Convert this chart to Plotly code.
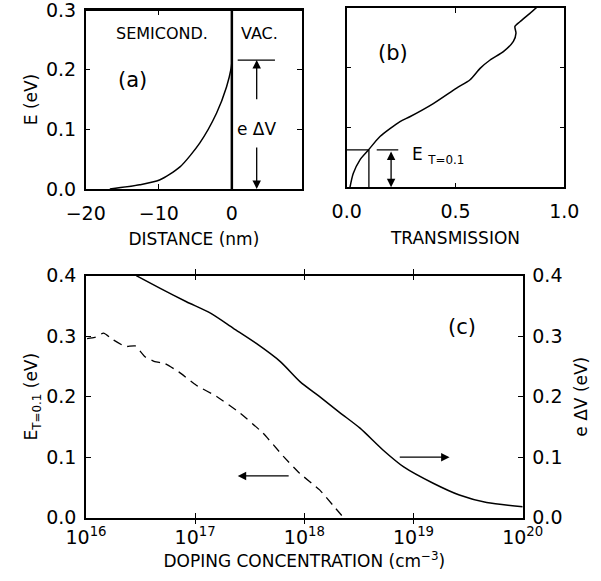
import plotly.graph_objects as go

# ---------- data ----------
# (a) band bending vs distance
dist_nm = [-16.7, -12.6, -9.9, -7.1, -4.4, -2.1, -0.73, -0.1, 0.0]
band_E = [0.0, 0.007, 0.015, 0.037, 0.077, 0.127, 0.171, 0.202, 0.212]

# (b) transmission vs energy
trans_T = [0.015, 0.03, 0.061, 0.1, 0.153, 0.245, 0.29, 0.398, 0.505, 0.567, 0.613,
           0.659, 0.72, 0.766, 0.778, 0.773, 0.796, 0.842, 0.876]
trans_E = [0.0, 0.023, 0.046, 0.0625, 0.085, 0.11, 0.118, 0.14, 0.166, 0.18, 0.199,
           0.213, 0.227, 0.244, 0.258, 0.269, 0.277, 0.291, 0.302]

# (c) vs doping concentration
dop_dV = [10**16.46, 10**16.68, 10**16.92, 10**17.14, 10**17.35, 10**17.56, 10**17.78,
          10**17.96, 10**18.14, 10**18.33, 10**18.51, 10**18.72, 10**18.91, 10**19.18,
          10**19.42, 10**19.67, 10**20.0]
e_dV = [0.4, 0.379, 0.357, 0.338, 0.313, 0.288, 0.258, 0.225, 0.2, 0.173, 0.148,
        0.112, 0.084, 0.057, 0.0375, 0.025, 0.018]

dop_ET = [10**16.01, 10**16.08, 10**16.16, 10**16.25, 10**16.36, 10**16.45, 10**16.54,
          10**16.63, 10**16.72, 10**16.85, 10**17.01, 10**17.2, 10**17.41, 10**17.62,
          10**17.81, 10**17.96, 10**18.14, 10**18.26, 10**18.36]
E_T01 = [0.296, 0.298, 0.305, 0.294, 0.283, 0.284, 0.266, 0.258, 0.255, 0.241, 0.219,
         0.2, 0.173, 0.14, 0.101, 0.073, 0.046, 0.021, 0.0]

a_xticks = [-20, -10, 0]
a_yticks = [0.0, 0.1, 0.2, 0.3]
b_xticks = [0.0, 0.5, 1.0]
c_yticks = [0.0, 0.1, 0.2, 0.3, 0.4]
c_xticks = [1e16, 1e17, 1e18, 1e19, 1e20]
c_xticktext = ["10<sup>16</sup>", "10<sup>17</sup>", "10<sup>18</sup>",
               "10<sup>19</sup>", "10<sup>20</sup>"]

# ---------- figure ----------
W, H = 601, 581
FONT = "DejaVu Sans, Liberation Sans, sans-serif"
TICKF = dict(family=FONT, size=19, color="black")
TITF = dict(family=FONT, size=17, color="black")
LBLF = dict(family=FONT, size=16, color="black")
PANF = dict(family=FONT, size=21, color="black")
LINE = dict(color="black", width=1.5, shape="spline", smoothing=0.7)

def px_x(a, b):
    return [a / W, b / W]

def px_y(top, bot):
    return [1 - bot / H, 1 - top / H]

fig = go.Figure()

fig.add_trace(go.Scatter(x=dist_nm, y=band_E, mode="lines", line=LINE,
                         xaxis="x", yaxis="y", showlegend=False))
fig.add_trace(go.Scatter(x=trans_T, y=trans_E, mode="lines", line=LINE,
                         xaxis="x2", yaxis="y2", showlegend=False))
fig.add_trace(go.Scatter(x=dop_ET, y=E_T01, mode="lines",
                         line=dict(color="black", width=1.3, dash="9px,6px",
                                   shape="spline", smoothing=0.5),
                         xaxis="x3", yaxis="y3", showlegend=False))
fig.add_trace(go.Scatter(x=dop_dV, y=e_dV, mode="lines", line=LINE,
                         xaxis="x3", yaxis="y4", showlegend=False))

common = dict(showline=True, linecolor="black", linewidth=1.5, mirror="allticks",
              ticks="inside", ticklen=5, tickwidth=1.2, tickcolor="black",
              showgrid=False, zeroline=False, tickfont=TICKF, automargin=False,
              ticklabeloverflow="allow")

fig.update_layout(
    width=W, height=H, margin=dict(l=0, r=0, t=0, b=0),
    paper_bgcolor="white", plot_bgcolor="white",
    xaxis=dict(common, domain=px_x(85.7, 302), range=[-20, 9.6], tickvals=a_xticks,
               ticktext=["\u221220", "\u221210", "0"], anchor="y",
               title=dict(text="DISTANCE (nm)", font=TITF, standoff=11),
               ticklabelstandoff=6),
    yaxis=dict(common, domain=px_y(10, 189), range=[0, 0.3], tickvals=a_yticks,
               tickformat=".1f", anchor="x",
               title=dict(text="E (eV)", font=TITF, standoff=4),
               ticklabelstandoff=4),
    xaxis2=dict(common, domain=px_x(346.7, 564.3), range=[0, 1.0], tickvals=b_xticks,
                tickformat=".1f", anchor="y2",
                title=dict(text="TRANSMISSION", font=TITF, standoff=11),
                ticklabelstandoff=6),
    yaxis2=dict(common, domain=px_y(8, 187.3), range=[0, 0.3], tickvals=a_yticks,
                showticklabels=False, anchor="x2"),
    xaxis3=dict(common, domain=px_x(86, 522.7), type="log", range=[16, 20],
                tickvals=c_xticks, ticktext=c_xticktext, anchor="y3",
                title=dict(text="DOPING CONCENTRATION (cm<sup>\u22123</sup>)",
                           font=TITF, standoff=8),
                ticklabelstandoff=2),
    yaxis3=dict(common, domain=px_y(275.7, 517.7), range=[0, 0.4], tickvals=c_yticks,
                tickformat=".1f", anchor="x3", mirror=False,
                title=dict(text="E<sub>T=0.1</sub> (eV)", font=TITF, standoff=4),
                ticklabelstandoff=4),
    yaxis4=dict(common, domain=px_y(275.7, 517.7), range=[0, 0.4], tickvals=c_yticks,
                tickformat=".1f", anchor="x3", overlaying="y3", side="right",
                mirror=False,
                title=dict(text="e \u0394V (eV)", font=TITF, standoff=14),
                ticklabelstandoff=4),
)

# top edge of (a), drawn explicitly in paper coordinates on top of everything
fig.add_shape(type="line", xref="paper", yref="paper", x0=85.7 / W, x1=302 / W,
              y0=1 - 10 / H, y1=1 - 10 / H, layer="above",
              line=dict(color="black", width=1.8))
# interface line in (a)
fig.add_shape(type="line", xref="x", yref="y", x0=0, x1=0, y0=0, y1=0.3,
              line=dict(color="black", width=2.5))
# eΔV marker in (a)
fig.add_shape(type="line", xref="x", yref="y", x0=0.8, x1=5.9, y0=0.216, y1=0.216,
              line=dict(color="black", width=1.3))

# E_T=0.1 construction in (b)
fig.add_shape(type="line", xref="x2", yref="y2", x0=0, x1=0.102, y0=0.0625, y1=0.0625,
              line=dict(color="black", width=1.3))
fig.add_shape(type="line", xref="x2", yref="y2", x0=0.102, x1=0.102, y0=0, y1=0.0625,
              line=dict(color="black", width=1.3))
fig.add_shape(type="line", xref="x2", yref="y2", x0=0.138, x1=0.237, y0=0.0625, y1=0.0625,
              line=dict(color="black", width=1.3))

ARW = dict(showarrow=True, arrowhead=2, arrowsize=1.3, arrowwidth=1.3,
           arrowcolor="black", text="")

anns = [
    # (a)
    dict(ARW, xref="x", yref="y", axref="x", ayref="y", x=3.4, y=0.216, ax=3.4, ay=0.148),
    dict(ARW, xref="x", yref="y", axref="x", ayref="y", x=3.4, y=0.0, ax=3.4, ay=0.072),
    dict(xref="x", yref="y", x=3.4, y=0.1, text="e \u0394V", showarrow=False, font=TITF),
    dict(xref="x", yref="y", x=-9.6, y=0.261, text="SEMICOND.", showarrow=False, font=LBLF),
    dict(xref="x", yref="y", x=3.8, y=0.261, text="VAC.", showarrow=False, font=LBLF),
    dict(xref="x", yref="y", x=-13.6, y=0.183, text="(a)", showarrow=False, font=PANF),
    # (b)
    dict(ARW, xref="x2", yref="y2", axref="x2", ayref="y2", x=0.204, y=0.0, ax=0.204,
         ay=0.0625, arrowside="end+start"),
    dict(xref="x2", yref="y2", x=0.29, y=0.053, text="E <sub>T=0.1</sub>",
         showarrow=False, xanchor="left", font=TITF),
    dict(xref="x2", yref="y2", x=0.214, y=0.224, text="(b)", showarrow=False, font=PANF),
    # (c)
    dict(ARW, xref="x3", yref="y3", axref="x3", ayref="y3", x=17.39, y=0.069,
         ax=17.87, ay=0.069),
    dict(ARW, xref="x3", yref="y3", axref="x3", ayref="y3", x=19.33, y=0.1,
         ax=18.86, ay=0.1),
    dict(xref="x3", yref="y3", x=19.44, y=0.316, text="(c)", showarrow=False, font=PANF),
]
fig.update_layout(annotations=anns)

fig.write_html("out.html")
